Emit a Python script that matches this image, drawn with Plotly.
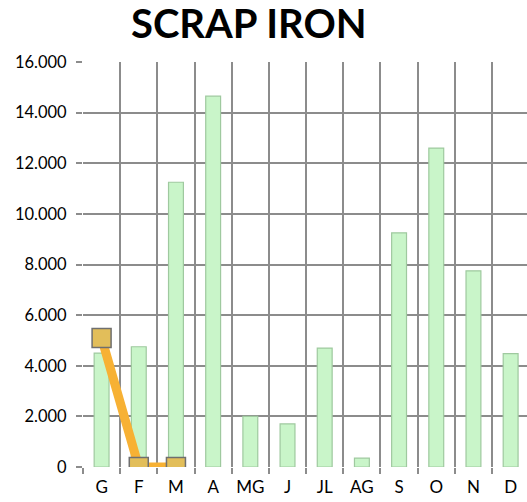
import plotly.graph_objects as go

months = ["G", "F", "M", "A", "MG", "J", "JL", "AG", "S", "O", "N", "D"]
bar_values = [4500, 4750, 11250, 14650, 2000, 1700, 4700, 350, 9250, 12600, 7750, 4480]
line_months = ["G", "F", "M"]
line_values = [5100, 0, 0]
y_ticks = [0, 2000, 4000, 6000, 8000, 10000, 12000, 14000, 16000]

fig = go.Figure()
fig.add_trace(go.Bar(
    x=months, y=bar_values, width=0.4,
    marker=dict(color="#c9f5c9", line=dict(color="#9fc99f", width=1.2)),
    showlegend=False,
))
fig.add_trace(go.Scatter(
    x=line_months, y=line_values, mode="lines+markers",
    line=dict(color="#F7B134", width=9),
    marker=dict(symbol="square", size=19, color="#E2BE5A",
                line=dict(color="#6f6f6f", width=1.5)),
    showlegend=False,
))

fig.update_layout(
    width=527, height=502,
    margin=dict(l=83, r=0, t=62, b=35, autoexpand=False),
    paper_bgcolor="white", plot_bgcolor="white",
    separators=",.",
    font=dict(family="Lato, Open Sans, sans-serif", color="#000000", size=16.5),
    title=dict(text="<b>SCRAP IRON</b>", x=0.472, xanchor="center",
               y=0.925, yanchor="bottom",
               font=dict(size=40, family="Lato, Open Sans, sans-serif", color="#000")),
    bargap=0.6,
)
fig.update_xaxes(
    type="category", tickson="boundaries", range=[-0.5, 11.44],
    showgrid=True, gridcolor="#8c8c8c", gridwidth=1.5,
    ticks="outside", ticklen=6, tickcolor="#8c8c8c", tickwidth=1.5,
    showline=False, zeroline=False, automargin=False, tickangle=0,
    tickfont=dict(size=17), ticklabelstandoff=8,
)
fig.update_yaxes(
    range=[0, 16000], tickvals=y_ticks, tickformat=",d",
    showgrid=True, gridcolor="#8c8c8c", gridwidth=1.5,
    ticks="outside", ticklen=6, tickcolor="#8c8c8c", tickwidth=1.5,
    zeroline=False, showline=False, automargin=False,
    tickfont=dict(size=16.5), ticklabelstandoff=6,
)

fig.write_html("out.html", config={"displayModeBar": False},
               post_script="document.body.style.margin='0';")
